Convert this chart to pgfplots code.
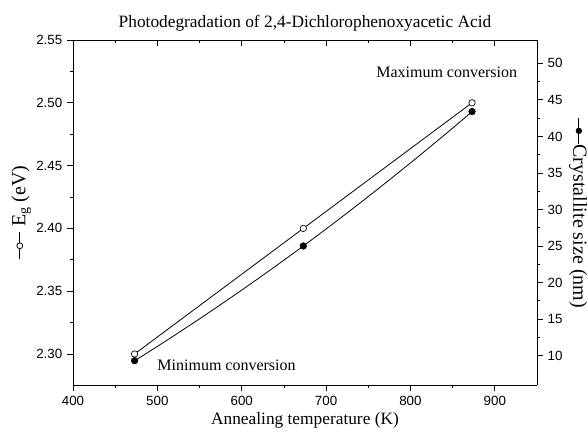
\documentclass[border=0pt]{standalone}
\usepackage{fontspec}
\setmainfont{Liberation Serif}
\setsansfont{Liberation Sans}
\usepackage{pgfplots}
\pgfplotsset{compat=1.18}
\pgfplotstableread{
x eg
473 2.300
673 2.400
873 2.500
}\egdata
\pgfplotstableread{
x cs
473 9.3
673 25.0
873 43.4
}\csdata
\newcommand{\opensym}{\tikz[baseline=-0.6ex,x=1pt,y=1pt]{\draw[line width=0.7pt] (0,0)--(20,0); \draw[line width=0.6pt,fill=white] (10,0) circle (2.2);}}
\newcommand{\filledsym}{\tikz[baseline=-0.6ex,x=1pt,y=1pt]{\draw[line width=0.7pt] (0,0)--(20,0); \fill (10,0) circle (2.4);}}
\begin{document}
\begin{tikzpicture}
\useasboundingbox (-54.75pt,-40.5pt) rectangle (385.5pt,288.75pt);
\pgfplotsset{
  every axis/.append style={
    scale only axis, width=348pt, height=258.75pt,
    xmin=400, xmax=950,
    axis line style={line width=0.7pt},
    major tick length=4.5pt, minor tick length=2.5pt,
    every tick/.style={line width=0.6pt, black},
    tick label style={font=\sffamily\fontsize{10}{12}\selectfont, /pgf/number format/assume math mode=true},
  }
}
% left axis
\begin{axis}[
  axis x line*=bottom, axis y line*=left,
  tick align=outside,
  ymin=2.2753, ymax=2.55,
  xtick={400,500,...,900}, minor x tick num=1,
  ytick={2.30,2.35,...,2.551}, minor y tick num=1,
  yticklabel style={/pgf/number format/.cd, fixed, fixed zerofill, precision=2},
  xlabel={Annealing temperature (K)},
  ylabel={\opensym\ E\textsubscript{g} (eV)},
  xlabel style={font=\fontsize{13}{15}\selectfont, yshift=1pt},
  ylabel style={font=\fontsize{15}{17}\selectfont, yshift=-3pt},
  title={Photodegradation of 2,4-Dichlorophenoxyacetic Acid},
  title style={font=\fontsize{13}{15}\selectfont, yshift=-3pt},
  clip=false,
]
\addplot[black, line width=0.6pt, smooth, mark=*, mark size=2.4pt, mark options={fill=white, line width=0.5pt}] table[x=x,y=eg] {\egdata};
\node[font=\fontsize{12}{14}\selectfont] at (axis cs:843,2.5245) {Maximum conversion};
\node[font=\fontsize{12}{14}\selectfont] at (axis cs:582,2.2912) {Minimum conversion};
\end{axis}
% top axis line with inner ticks
\begin{axis}[
  axis x line*=top, axis y line=none,
  tick align=inside,
  ymin=0, ymax=1,
  xtick={400,500,...,900}, minor x tick num=1,
  xticklabels={},
]
\end{axis}
% right axis
\begin{axis}[
  axis x line=none, axis y line*=right,
  tick align=outside,
  ymin=5.97, ymax=53.2,
  ytick={10,15,...,50}, minor y tick num=1,
  ylabel={\filledsym Crystallite size (nm)},
  ylabel style={font=\fontsize{15}{17}\selectfont, rotate=180, yshift=-2pt},
]
\addplot[black, line width=0.6pt, smooth, tension=1, mark=*, mark size=2.4pt] table[x=x,y=cs] {\csdata};
\end{axis}
\end{tikzpicture}
\end{document}
